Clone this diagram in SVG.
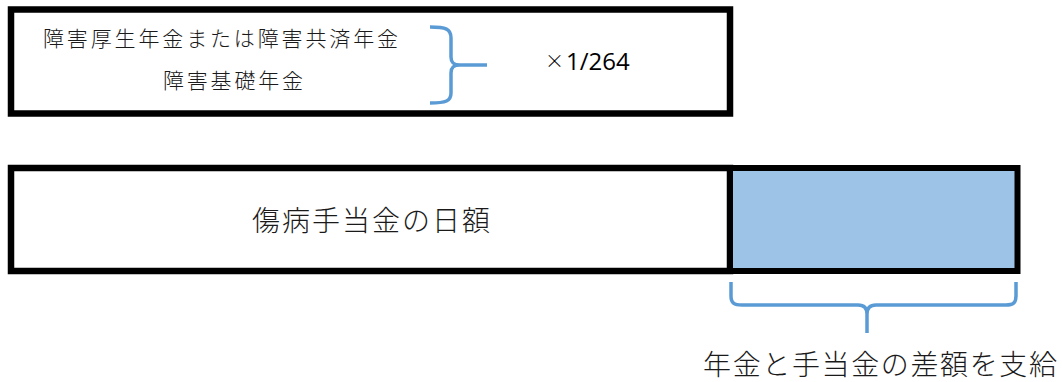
<svg xmlns="http://www.w3.org/2000/svg" width="1062" height="382" viewBox="0 0 1062 382">
<style>
.box{fill:#fff;stroke:#000;stroke-width:6.5}
.jp{font-family:"Noto Sans CJK JP","Noto Sans",sans-serif;font-weight:300;fill:#1a1a1a}
.num{font-family:"Open Sans","Liberation Sans",sans-serif;fill:#000}
.brace{fill:none;stroke:#5B9BD5;stroke-width:3.5;stroke-linecap:butt;stroke-linejoin:round}
</style>
<rect width="1062" height="382" fill="#fff"/>
<g id="formula-box">
<rect class="box" x="11" y="9.5" width="719" height="104"/>
<text class="jp" x="43" y="46" font-size="21" textLength="355" lengthAdjust="spacing">障害厚生年金または障害共済年金</text>
<text class="jp" x="163" y="88" font-size="21" textLength="140" lengthAdjust="spacing">障害基礎年金</text>
<text x="545" y="68" class="num"><tspan font-size="19" font-weight="300" font-family="Noto Sans CJK JP,sans-serif">×</tspan><tspan font-size="24" x="566" y="70">1/264</tspan></text>
</g>
<g id="daily-allowance">
<rect class="box" x="11" y="168" width="719" height="103"/>
<text class="jp" x="252" y="231" font-size="28" textLength="238" lengthAdjust="spacing">傷病手当金の日額</text>
</g>
<g id="difference">
<rect x="730" y="168" width="287.5" height="103" fill="#9DC3E6" stroke="#000" stroke-width="6"/>
</g>
<g id="difference-label">
<text class="jp" x="703" y="375" font-size="28" textLength="354" lengthAdjust="spacing">年金と手当金の差額を支給</text>
</g>
<g id="connectors">
<path class="brace" d="M430 27 C446 27 451 29 451 38 L451 57 C451 63 454 65 460 65 L487 65 M460 65 C454 65 451 67 451 73 L451 93 C451 101 446 103 430 103"/>
<path class="brace" d="M731 282 L731 296 C731 303 734 305 742 305 L858 305 C864 305 867 308 867 314 L867 333 M867 314 C867 308 870 305 876 305 L1006 305 C1013 305 1016 303 1016 296 L1016 282"/>
</g>
</svg>
